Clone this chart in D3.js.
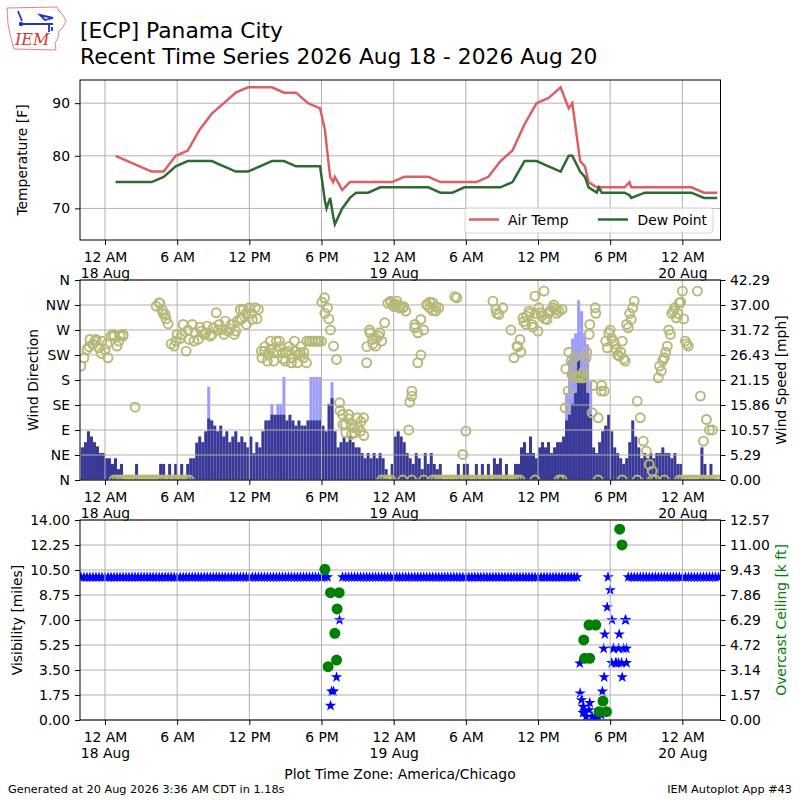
<!DOCTYPE html>
<html>
<head>
<meta charset="utf-8">
<script src="https://cdn.jsdelivr.net/npm/d3@7"></script>
<style>
  body { margin: 0; background: #fff; }
  text { font-family: "DejaVu Sans", sans-serif; }
</style>
</head>
<body>
<svg id="chart" width="800" height="800"></svg>
<script>
// ---- data (hours since 2026-08-18 00:00 local) ----
var obsH = [0.88, 1.88, 2.88, 3.88, 4.88, 5.88, 6.88, 7.88, 8.88, 9.88, 10.88, 11.88, 12.88, 13.88, 14.88, 15.88, 16.88, 17.88,
  18.28, 18.42, 18.72, 18.97, 19.11, 19.72, 20.36,
  20.88, 21.88, 22.88, 23.88, 24.88, 25.88, 26.88, 27.88, 28.88, 29.88, 30.88, 31.88, 32.88, 33.88, 34.88, 35.88, 36.88, 37.88,
  38.55, 38.85, 39.5, 39.9, 40.2, 40.88, 41.05, 41.3, 41.88, 42.88, 43.2, 43.6, 43.75, 44.88, 45.88, 46.88, 47.88, 48.75, 49.8, 50.9]
var tmpf = [80, 79, 78, 77, 77, 80, 81, 85, 88, 90, 92, 93, 93, 93, 92, 92, 90, 89,
  85, 82, 76, 75, 76, 73.5, 75,
  75, 75, 75, 75, 76, 76, 76, 75, 75, 75, 75, 76, 79, 81, 86, 90, 91, 93,
  89, 90, 79, 78, 75, 74, 74, 74, 74, 74, 74, 75, 74, 74, 74, 74, 74, 74, 73, 73]
var dwpf = [75, 75, 75, 75, 76, 78, 79, 79, 79, 78, 77, 77, 78, 79, 79, 78, 78, 78,
  71.5, 70, 72, 68.5, 67, 70, 72,
  73, 73, 74, 74, 74, 74, 74, 73, 73, 74, 74, 74, 74, 75, 79, 79, 78, 77,
  80, 80, 77, 76, 74, 73, 74, 73, 73, 73, 73, 72.5, 72, 73, 73, 73, 73, 73, 72, 72]

// wind obs every 15 minutes starting 17 Aug 22:00
var windStartH = -2
var windStepH = 0.25
var smph = [
  6.9, 8.0, 10.3, 9.2, 8.0, 7.1, 5.7, 5.7, 4.6, 4.6,
  3.4, 4.6, 2.3, 3.4, 0, 0, 0, 0, 3.4, 0,
  0, 0, 0, 0, 0, 0, 3.4, 3.4, 0, 3.4,
  0, 3.4, 0, 3.4, 0, 3.4, 4.6, 4.6, 7.9, 9.2,
  8.0, 10.3, 13.0, 12.6, 11.5, 10.3, 11.5, 9.2, 10.3, 8.0,
  9.2, 10.3, 8.0, 9.2, 8.0, 6.9, 9.2, 5.7, 8.0, 6.9,
  10.3, 12.6, 12.6, 13.8, 13.8, 13.8, 13.8, 13.8, 12.6, 13.8,
  12.6, 11.5, 12.6, 11.5, 11.5, 12.6, 12.6, 12.6, 12.6, 12.6,
  11.5, 10.3, 16.1, 17.3, 10.3, 6.9, 8.0, 9.2, 8.0, 9.2,
  8.0, 6.9, 6.9, 5.7, 4.6, 5.7, 4.6, 5.7, 4.6, 5.7,
  4.6, 2.3, 0, 3.4, 9.2, 10.3, 9.2, 8.0, 5.7, 4.6,
  3.4, 5.7, 4.6, 2.3, 5.7, 3.4, 5.7, 3.4, 2.3, 3.4,
  0, 0, 0, 0, 0, 3.4, 0, 3.4, 3.4, 0,
  0, 3.4, 0, 3.4, 0, 3.4, 0, 4.6, 3.4, 4.6,
  0, 3.4, 0, 0, 3.4, 3.4, 6.9, 8.0, 5.7, 9.2,
  5.7, 4.6, 6.9, 8.0, 6.9, 8.0, 5.7, 6.9, 8.0, 8.0,
  9.2, 12.6, 13.8, 16.1, 18.4, 25.3, 23.0, 21.9, 18.4, 13.8,
  6.9, 5.7, 8.0, 10.3, 11.5, 13.8, 10.3, 6.9, 5.7, 4.6,
  3.4, 4.6, 8.0, 12.6, 9.2, 6.9, 4.6, 5.7, 4.6, 5.7,
  4.6, 5.7, 5.7, 6.9, 5.7, 5.7, 4.6, 5.7, 3.4, 3.4,
  0, 0, 0, 0, 0, 0, 6.9, 3.4, 0, 3.4,
  0, 0, 0]
var drct = [
  205, 220, 235, 253, 244, 253, 238, 250, 235, 220,
  259, 259, 241, 260, 259, 0, 0, 0, 131, 0,
  0, 0, 0, 0, 0, 313, 319, 307, 298, 281,
  245, 241, 262, 255, 280, 232, 253, 280, 265, 253,
  268, 262, 277, 259, 274, 301, 280, 271, 286, 268,
  280, 262, 286, 307, 307, 280, 310, 289, 310, 307,
  232, 232, 214, 250, 229, 250, 250, 229, 214, 232,
  211, 250, 211, 229, 220, 211, 250, 250, 250, 250,
  250, 328, 310, 270, 241, 217, 139, 118, 100, 118,
  82, 94, 112, 88, 112, 211, 270, 253, 241, 259,
  250, 283, 0, 322, 316, 316, 310, 310, 304, 90,
  151, 274, 211, 289, 270, 316, 310, 319, 304, 0,
  0, 0, 0, 0, 0, 328, 0, 46, 88, 0,
  0, 0, 0, 0, 0, 0, 0, 322, 307, 298,
  0, 0, 0, 270, 220, 241, 253, 292, 280, 304,
  280, 331, 268, 301, 340, 289, 304, 310, 307, 304,
  307, 130, 160, 214, 220, 187, 184, 184, 220, 262,
  121, 310, 112, 160, 160, 238, 270, 250, 235, 223,
  250, 214, 274, 289, 322, 142, 112, 70, 52, 28,
  16, 0, 184, 196, 220, 241, 262, 304, 292, 319,
  340, 250, 241, 0, 0, 340, 151, 70, 109, 90,
  90, 0, 0]
// extra calm reports (direction 0) between the 15 minute obs
var calmH = [0.75, 1.0, 1.25, 1.5, 2.5, 4.25, 4.5, 4.75, 5.0, 5.25, 5.5, 5.75, 6.0, 6.25, 6.5, 6.75, 7.0,
  23.0, 23.25, 23.75, 24.75, 25.5, 26.5,
  27.25, 27.5, 29.25, 29.75, 30.0, 32.25, 32.5, 32.75, 33.75, 34.0, 34.25, 34.5,
  35.75, 37.75, 38.0, 41.0, 43.0, 44.25, 45.5, 46.5, 47.75, 48.0, 48.25, 48.5, 49.25, 49.5, 49.75, 50.0, 50.25, 50.5]
// extra direction reports [hour, degrees] between the 15 minute obs
var drctExtra = [
  [-1.33, 240], [-0.83, 250], [-0.33, 228], [0.17, 245], [0.66, 262], [1.16, 250], [1.5, 262],
  [4.57, 318], [4.82, 300], [5.07, 290],
  [5.9, 250], [6.4, 262], [6.9, 270], [7.4, 250], [7.89, 275], [8.39, 265], [8.89, 262], [9.39, 270],
  [9.89, 262], [10.39, 272], [10.88, 268], [11.38, 290], [11.22, 290], [11.72, 300], [12.21, 300], [12.63, 290],
  [13.05, 220], [13.29, 240], [13.54, 225], [13.79, 235], [14.04, 214], [14.29, 232], [14.54, 240], [14.79, 218],
  [15.04, 229], [15.29, 240], [15.54, 220], [15.79, 232], [16.04, 225], [16.29, 240], [16.53, 230], [16.78, 250],
  [17.03, 250], [17.28, 250], [17.53, 250], [17.78, 250],
  [18.03, 320], [18.28, 300], [18.61, 290],
  [19.53, 125], [19.78, 100], [20.02, 85], [20.27, 110], [20.52, 100], [20.77, 85], [21.02, 95], [21.27, 105], [21.52, 80],
  [21.77, 240], [22.02, 265], [22.27, 245], [22.52, 255], [22.85, 265],
  [23.51, 318], [23.76, 320], [24.01, 312], [24.26, 322], [24.51, 310], [24.84, 312], [25.34, 140], [25.51, 160],
  [25.76, 280], [26.01, 265], [26.26, 225], [26.76, 315], [27.0, 320], [27.25, 305], [27.5, 312], [27.75, 310],
  [29.08, 330], [32.57, 300], [33.07, 310],
  [34.32, 240], [34.57, 230], [34.81, 285], [35.06, 295], [35.31, 300], [35.56, 275], [35.81, 300], [36.06, 310],
  [36.31, 295], [36.56, 290], [36.81, 300], [37.06, 305], [37.31, 315], [37.56, 300],
  [38.31, 200], [38.56, 230], [38.81, 190], [39.05, 185], [39.3, 185], [39.55, 188], [39.8, 195], [40.05, 230],
  [40.3, 280], [40.55, 170], [40.8, 300],
  [41.3, 170], [41.63, 250], [41.88, 265], [42.13, 255], [42.37, 245], [42.62, 225], [42.87, 230], [43.12, 218],
  [43.37, 280], [43.62, 300], [43.87, 310],
  [46.11, 205], [46.36, 215], [46.61, 230], [46.86, 270], [47.11, 300], [47.36, 310], [47.61, 300], [47.86, 320],
  [48.11, 290], [48.36, 245]]
var gusts = [[8.5, 19.7], [13.75, 16.1], [14.25, 16.1], [14.5, 16.1], [14.75, 21.8],
  [17.0, 21.8], [17.25, 21.8], [17.5, 21.8], [17.75, 21.8], [18.75, 20.7],
  [38.25, 18.4], [38.5, 25.3], [38.75, 29.9], [39.0, 31.0], [39.25, 38.0], [39.5, 35.7],
  [39.75, 31.0], [40.0, 28.7], [40.25, 20.7]]

// visibility [miles], same 15 minute steps as wind
var vsby = [
  10, 10, 10, 10, 10, 10, 10, 10, 10, 10,
  10, 10, 10, 10, 10, 10, 10, 10, 10, 10,
  10, 10, 10, 10, 10, 10, 10, 10, 10, 10,
  10, 10, 10, 10, 10, 10, 10, 10, 10, 10,
  10, 10, 10, 10, 10, 10, 10, 10, 10, 10,
  10, 10, 10, 10, 10, 10, 10, 10, 10, 10,
  10, 10, 10, 10, 10, 10, 10, 10, 10, 10,
  10, 10, 10, 10, 10, 10, 10, 10, 10, 10,
  10, 10, 10, 1.0, 2.0, 3.0, 7.0, 10, 10, 10,
  10, 10, 10, 10, 10, 10, 10, 10, 10, 10,
  10, 10, 10, 10, 10, 10, 10, 10, 10, 10,
  10, 10, 10, 10, 10, 10, 10, 10, 10, 10,
  10, 10, 10, 10, 10, 10, 10, 10, 10, 10,
  10, 10, 10, 10, 10, 10, 10, 10, 10, 10,
  10, 10, 10, 10, 10, 10, 10, 10, 10, 10,
  10, 10, 10, 10, 10, 10, 10, 10, 10, 10,
  10, 10, 10, 10, 10, 10, 1.87, 0.93, 0.23, 0.7,
  0.23, 0.23, 0.23, 0.35, 3.0, 7.9, 9.1, 5.0, 4.0, 6.0,
  3.0, 7.0, 10, 10, 10, 10, 10, 10, 10, 10,
  10, 10, 10, 10, 10, 10, 10, 10, 10, 10,
  10, 10, 10, 10, 10, 10, 10, 10, 10, 10,
  10, 10, 10]
var vsbyExtra = [[18.84, 2.0], [39.47, 3.97], [39.61, 1.4], [39.74, 0.5], [39.88, 0.6], [40.3, 1.2],
  [41.35, 2.0], [41.46, 5.0], [41.55, 6.0], [41.82, 10.0], [42.13, 4.0], [42.15, 7.0], [42.29, 5.0],
  [42.45, 4.0], [42.7, 5.0], [42.7, 4.0], [42.95, 4.0], [43.12, 5.0], [43.3, 7.0], [43.35, 4.0], [43.35, 5.0]]
// overcast ceiling [k ft]
var ceiling = [[18.28, 9.47], [18.55, 3.35], [18.75, 8.0], [19.11, 5.45], [19.25, 3.77], [19.3, 6.98], [19.47, 8.0],
  [39.8, 5.03], [39.88, 3.88], [40.24, 5.97], [40.3, 3.88], [40.8, 5.97], [41.07, 0.52], [41.4, 1.19],
  [41.69, 0.52], [42.79, 11.99], [42.98, 11.0]]

var xTickH = [0, 6, 12, 18, 24, 30, 36, 42, 48]
var tempTicks = [70, 80, 90]
var dirTicks = [0, 45, 90, 135, 180, 225, 270, 315, 360]
var dirLabels = ['N', 'NE', 'E', 'SE', 'S', 'SW', 'W', 'NW', 'N']
var spdLabels = ['0.00', '5.29', '10.57', '15.86', '21.15', '26.43', '31.72', '37.00', '42.29']
var visLabels = ['0.00', '1.75', '3.50', '5.25', '7.00', '8.75', '10.50', '12.25', '14.00']
var cigLabels = ['0.00', '1.57', '3.14', '4.72', '6.29', '7.86', '9.43', '11.00', '12.57']

// ---- setup ----
var svg = d3.select('#chart')
svg.append('rect').attr('width', 800).attr('height', 800).attr('fill', '#fff')

var base = new Date(2026, 7, 18)
var toDate = h => new Date(+base + h * 36e5)
var slotH = i => windStartH + i * windStepH

var left = 80, right = 720.5
var x = d3.scaleTime().domain([toDate(-2.077), toDate(51.17)]).range([left, right])

var yT = d3.scaleLinear().domain([64, 94.4]).range([240, 80])
var yDir = d3.scaleLinear().domain([0, 360]).range([480, 280])
var ySpd = d3.scaleLinear().domain([0, 42.29]).range([480, 280])
var yVis = d3.scaleLinear().domain([0, 14]).range([720, 520])
var yCig = d3.scaleLinear().domain([0, 12.57]).range([720, 520])

var gridColor = '#b0b0b0'
var fs = 13.9

var defs = svg.append('defs')
function clip(id, top, bottom){
  defs.append('clipPath').attr('id', id)
    .append('rect').attr('x', left).attr('y', top).attr('width', right - left).attr('height', bottom - top)
  return 'url(#' + id + ')'
}

function grid(g, top, bottom, yScale, yVals){
  var gg = g.append('g').attr('stroke', gridColor).attr('stroke-width', 1)
  xTickH.forEach(h => {
    gg.append('line').attr('x1', x(toDate(h))).attr('x2', x(toDate(h))).attr('y1', top).attr('y2', bottom)
  })
  yVals.forEach(v => {
    gg.append('line').attr('x1', left).attr('x2', right).attr('y1', yScale(v)).attr('y2', yScale(v))
  })
}

function frame(g, top, bottom){
  g.append('rect').attr('x', left).attr('y', top).attr('width', right - left).attr('height', bottom - top)
    .attr('fill', 'none').attr('stroke', '#000').attr('stroke-width', 1)
}

var fmtTick = d => {
  var h = d.getHours()
  if (h == 0) return '12 AM'
  if (h == 12) return '12 PM'
  return (h % 12) + (h < 12 ? ' AM' : ' PM')
}

function styleAxis(a){
  a.select('.domain').remove()
  a.attr('font-size', fs).attr('font-family', null)
  a.selectAll('line').attr('stroke', '#000')
  a.selectAll('text').attr('fill', '#000')
}

function bottomAxis(bottom){
  var ax = d3.axisBottom(x).tickValues(xTickH.map(toDate)).tickSize(5).tickPadding(7).tickFormat(fmtTick)
  var a = svg.append('g').attr('transform', 'translate(0,' + bottom + ')').call(ax)
  styleAxis(a)
  a.selectAll('text').each(function(d){
    if (d.getHours() == 0){
      d3.select(this).append('tspan').attr('x', 0).attr('dy', '1.15em').text(d.getDate() + ' Aug')
    }
  })
}

function leftAxis(yScale, vals, labels){
  var ax = d3.axisLeft(yScale).tickValues(vals).tickSize(5).tickPadding(5)
    .tickFormat((d, i) => labels ? labels[i] : d)
  var a = svg.append('g').attr('transform', 'translate(' + left + ',0)').call(ax)
  styleAxis(a)
}

function rightAxis(yScale, vals, labels){
  var ax = d3.axisRight(yScale).tickValues(vals).tickSize(5).tickPadding(4.5)
    .tickFormat((d, i) => labels[i])
  var a = svg.append('g').attr('transform', 'translate(' + right + ',0)').call(ax)
  styleAxis(a)
}

function yLabel(text, xPos, yCenter, color){
  svg.append('text').text(text)
    .attr('transform', 'translate(' + xPos + ',' + yCenter + ') rotate(-90)')
    .attr('text-anchor', 'middle').attr('font-size', fs).attr('fill', color || '#000')
}

// ---- logo and title ----
var logo = svg.append('g')
logo.append('path')
  .attr('d', 'M7,8 L57,7 L59,11 L63,15 L66,21 L63,27 L59,31 L58,38 L55,43 L56,50 L14,49 L12,42 L10,34 L8,24 Z')
  .attr('fill', 'none').attr('stroke', '#e06060').attr('stroke-width', 0.8)
logo.append('path')
  .attr('d', 'M21,24 H53 M18,11 L22,21 M40,15 L53,18 L45,20 Z M49,24 V32 M52,27 V31')
  .attr('stroke', '#2233cc').attr('stroke-width', 1.8).attr('fill', 'none')
logo.append('circle').attr('cx', 21).attr('cy', 24).attr('r', 2.2).attr('fill', '#2233cc')
logo.append('text').text('IEM').attr('x', 15).attr('y', 45)
  .style('font-family', '"DejaVu Serif", serif').style('font-style', 'italic')
  .attr('font-size', 16).attr('fill', '#dd3333')

svg.append('text').text('[ECP] Panama City').attr('x', 80).attr('y', 37.5).attr('font-size', 21.8)
svg.append('text').text('Recent Time Series 2026 Aug 18 - 2026 Aug 20').attr('x', 80).attr('y', 64).attr('font-size', 21.8)

// ---- panel 1: temperature ----
var p1 = svg.append('g')
grid(p1, 80, 240, yT, tempTicks)
var lineT = d3.line().x((d, i) => x(toDate(obsH[i]))).y(d => yT(d))
var p1c = p1.append('g').attr('clip-path', clip('c1', 80, 240))
p1c.append('path').attr('d', lineT(tmpf)).attr('fill', 'none').attr('stroke', '#dd5f66').attr('stroke-width', 2.5)
p1c.append('path').attr('d', lineT(dwpf)).attr('fill', 'none').attr('stroke', '#2f6a30').attr('stroke-width', 2.5)

var leg = p1.append('g')
leg.append('rect').attr('x', 465).attr('y', 208).attr('width', 248).attr('height', 25).attr('rx', 3)
  .attr('fill', '#fff').attr('fill-opacity', 0.8).attr('stroke', '#d6d6d6')
leg.append('line').attr('x1', 469).attr('x2', 499).attr('y1', 219.5).attr('y2', 219.5).attr('stroke', '#dd5f66').attr('stroke-width', 2.5)
leg.append('text').text('Air Temp').attr('x', 508).attr('y', 224.5).attr('font-size', fs)
leg.append('line').attr('x1', 598).attr('x2', 628).attr('y1', 219.5).attr('y2', 219.5).attr('stroke', '#2f6a30').attr('stroke-width', 2.5)
leg.append('text').text('Dew Point').attr('x', 637.5).attr('y', 224.5).attr('font-size', fs)
frame(p1, 80, 240)
leftAxis(yT, tempTicks)
bottomAxis(240)
yLabel('Temperature [F]', 26.5, 160)

// ---- panel 2: wind ----
var p2 = svg.append('g')
var p2c = p2.append('g').attr('clip-path', clip('c2', 280, 480))
p2c.selectAll('rect.gust').data(gusts).join('rect').attr('class', 'gust')
  .attr('x', d => x(toDate(d[0])))
  .attr('width', d => x(toDate(d[0] + windStepH)) - x(toDate(d[0])))
  .attr('y', d => ySpd(d[1])).attr('height', d => ySpd(0) - ySpd(d[1]))
  .attr('fill', '#9c9cff')
p2c.selectAll('rect.spd').data(smph).join('rect').attr('class', 'spd')
  .attr('x', (d, i) => x(toDate(slotH(i))))
  .attr('width', (d, i) => x(toDate(slotH(i + 1))) - x(toDate(slotH(i))))
  .attr('y', d => ySpd(d)).attr('height', d => ySpd(0) - ySpd(d))
  .attr('fill', '#383896')
grid(p2, 280, 480, yDir, dirTicks)
var dirPts = drct.map((d, i) => [slotH(i), d]).concat(calmH.map(h => [h, 0]), drctExtra)
var p2d = p2.append('g').attr('clip-path', clip('c2b', 280, 480))
p2d.selectAll('circle').data(dirPts).join('circle')
  .attr('cx', d => x(toDate(d[0]))).attr('cy', d => yDir(d[1])).attr('r', 4.5)
  .attr('fill', 'none').attr('stroke', '#b7b777').attr('stroke-width', 1.9)
frame(p2, 280, 480)
leftAxis(yDir, dirTicks, dirLabels)
rightAxis(ySpd, spdLabels.map(Number), spdLabels)
bottomAxis(480)
yLabel('Wind Direction', 38, 380)
yLabel('Wind Speed [mph]', 786, 380)

// ---- panel 3: visibility and ceiling ----
var p3 = svg.append('g')
var star = d3.symbol(d3.symbolStar, 40)
var visPts = vsby.map((d, i) => [slotH(i), d]).concat(vsbyExtra)
var p3c = p3.append('g').attr('clip-path', clip('c3', 520, 720))
p3c.selectAll('path').data(visPts).join('path')
  .attr('d', star)
  .attr('transform', d => 'translate(' + x(toDate(d[0])) + ',' + yVis(d[1]) + ')')
  .attr('fill', '#0000ff')
grid(p3, 520, 720, yVis, visLabels.map(Number))
var p3d = p3.append('g').attr('clip-path', clip('c3b', 520, 720))
p3d.selectAll('circle').data(ceiling).join('circle')
  .attr('cx', d => x(toDate(d[0]))).attr('cy', d => yCig(d[1])).attr('r', 5.5)
  .attr('fill', '#008000')
frame(p3, 520, 720)
leftAxis(yVis, visLabels.map(Number), visLabels)
rightAxis(yCig, cigLabels.map(Number), cigLabels)
bottomAxis(720)
yLabel('Visibility [miles]', 21.5, 620)
yLabel('Overcast Ceiling [k ft]', 786, 620, '#008000')

svg.append('text').text('Plot Time Zone: America/Chicago').attr('x', 400).attr('y', 779)
  .attr('text-anchor', 'middle').attr('font-size', fs)

// ---- footer ----
svg.append('text').text('Generated at 20 Aug 2026 3:36 AM CDT in 1.18s').attr('x', 8).attr('y', 792.5).attr('font-size', 11.3)
svg.append('text').text('IEM Autoplot App #43').attr('x', 792).attr('y', 792.5).attr('text-anchor', 'end').attr('font-size', 11.3)
</script>
</body>
</html>
